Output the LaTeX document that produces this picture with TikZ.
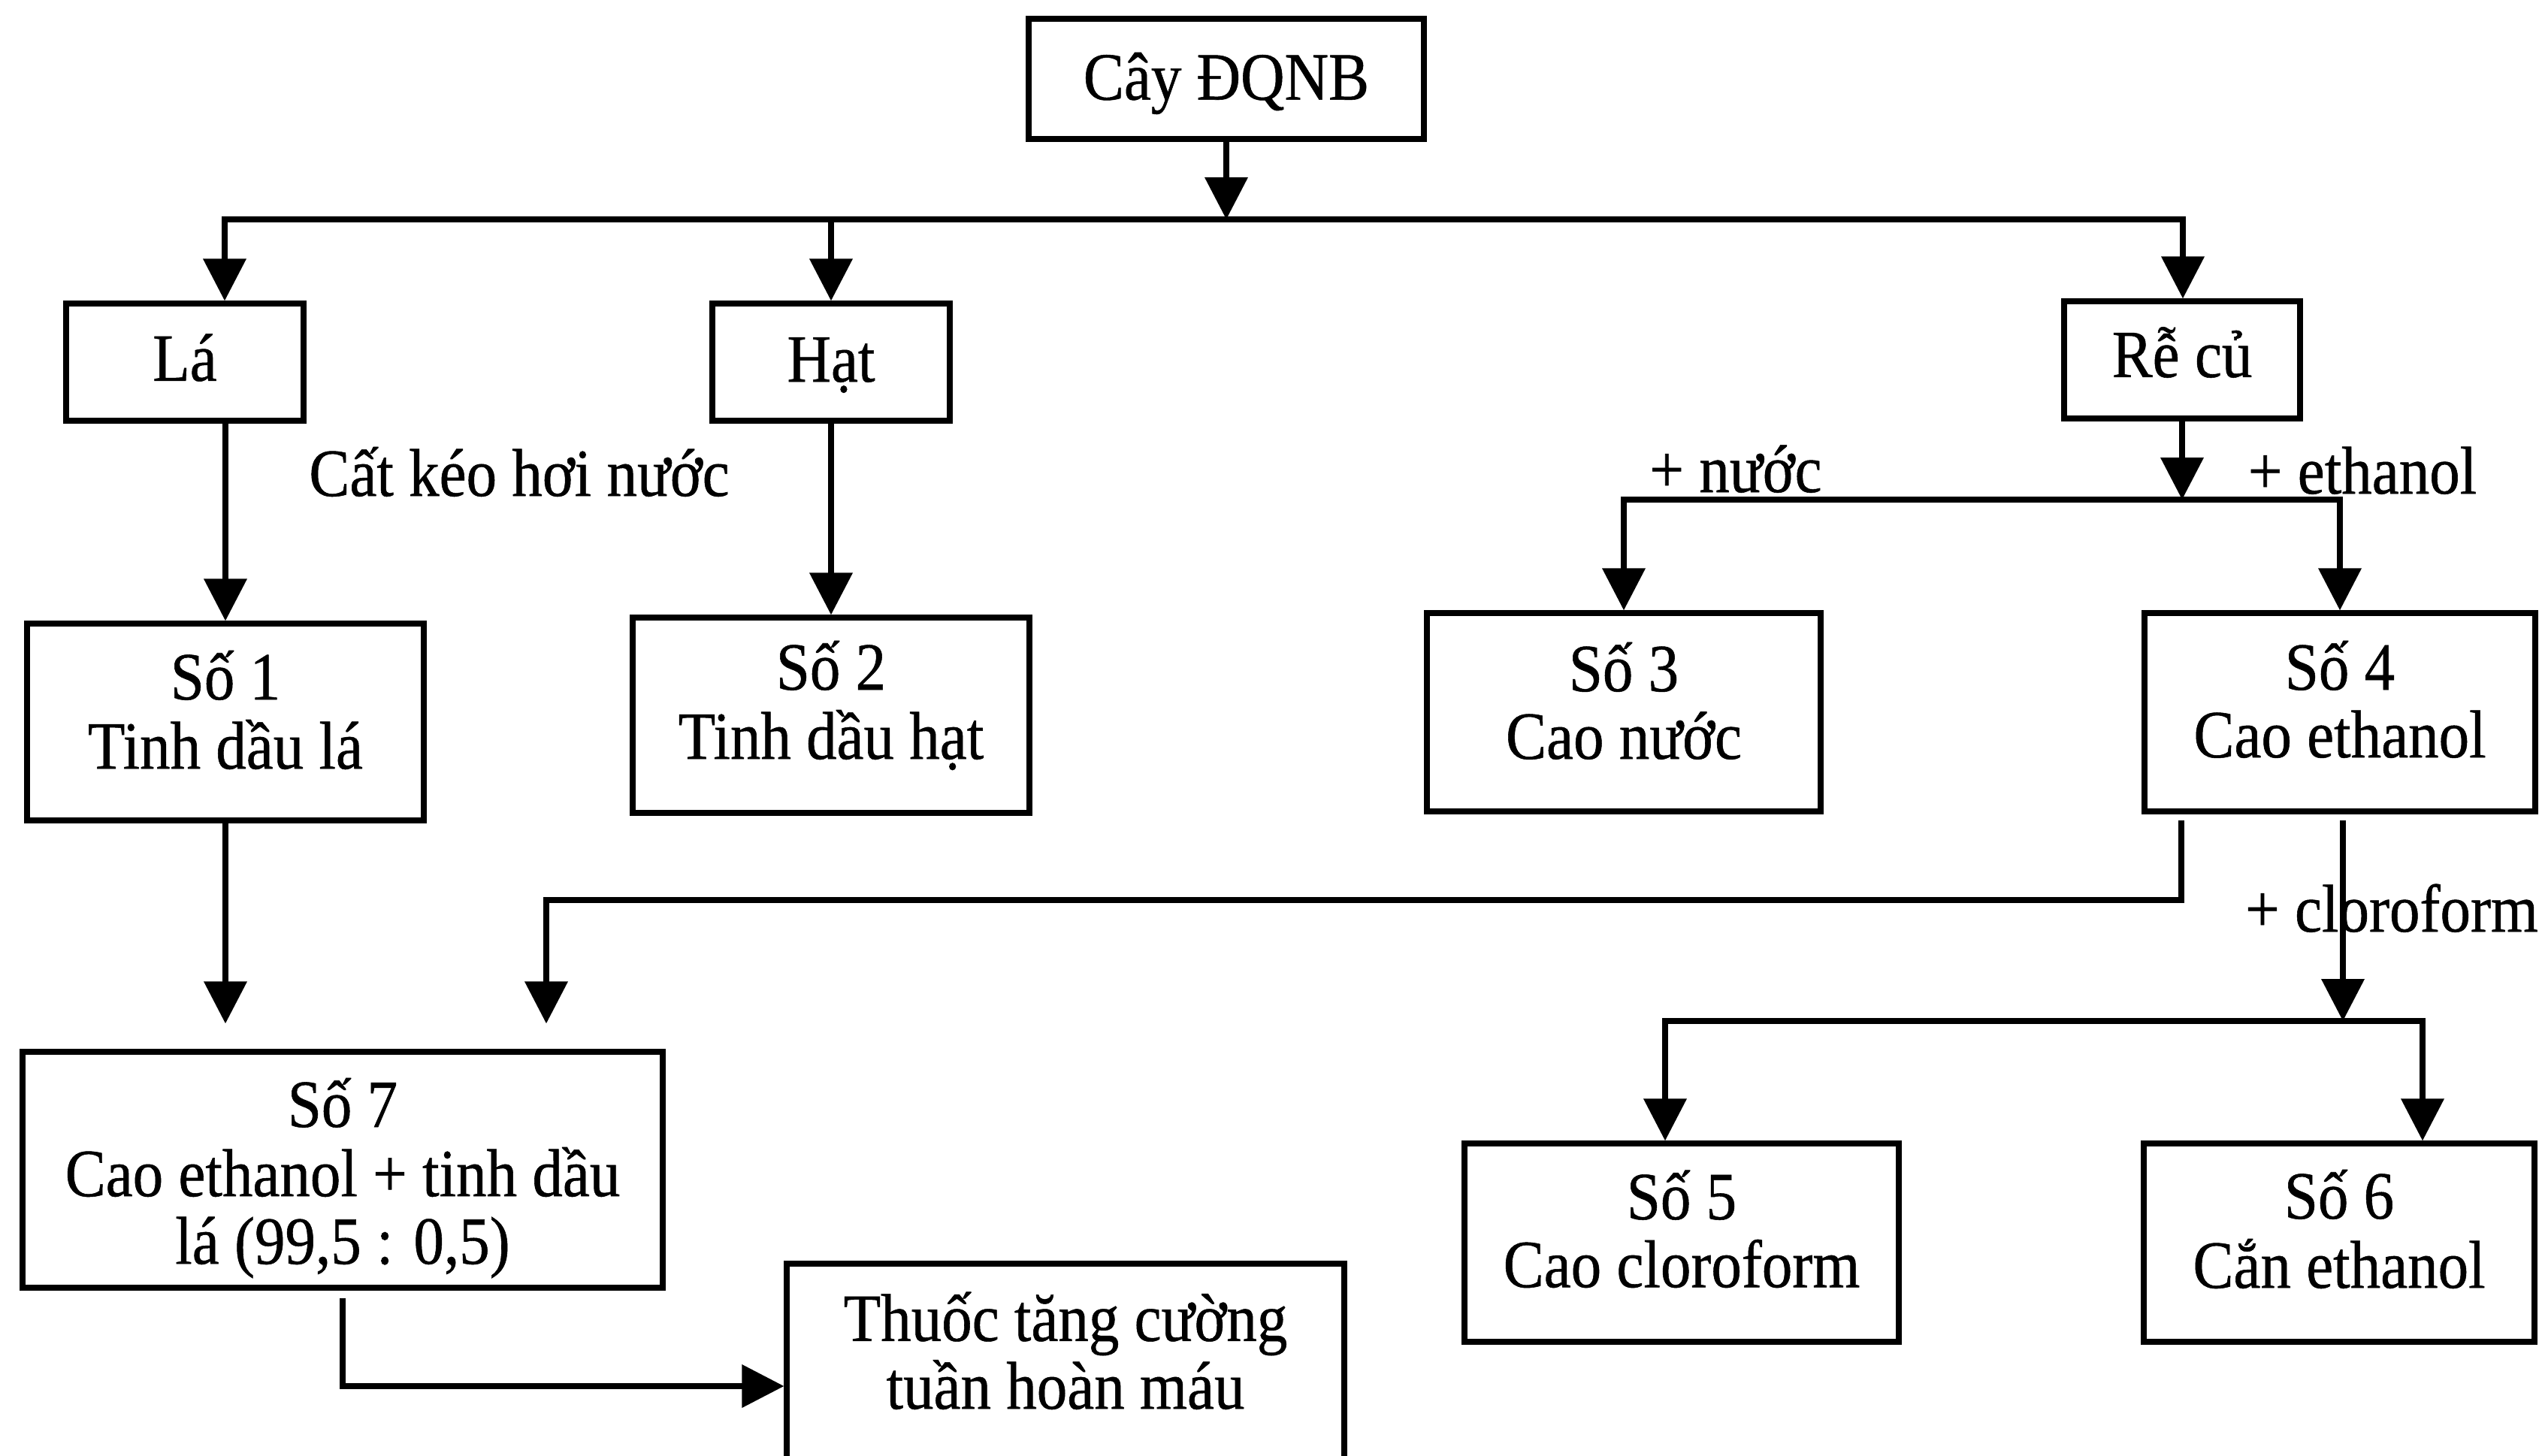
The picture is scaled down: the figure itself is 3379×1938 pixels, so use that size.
\documentclass[tikz,border=0pt]{standalone}
\usepackage{fontspec}
\setmainfont{Liberation Serif}[FakeStretch=0.9,FakeBold=0.6]
\usetikzlibrary{arrows.meta}
\newcommand\mtx[2]{\raisebox{#1}[\height][\depth]{\begin{tabular}{@{}c@{}}#2\end{tabular}}}
\newcommand\mone[2]{\raisebox{#1}[\height][\depth]{#2}}
\begin{document}
\begin{tikzpicture}[x=0.5pt,y=-0.5pt,
  box/.style={draw, line width=3.6pt, inner sep=0pt, align=center, font=\fontsize{45}{45}\selectfont},
  lbl/.style={inner sep=0pt, font=\fontsize{45}{45}\selectfont},
  conn/.style={line width=3.6pt},
  arr/.style={conn, -{Triangle[length=28pt,width=28pt]}}]
\useasboundingbox (0,0) rectangle (3379,1938);
\clip (0,0) rectangle (3379,1938);
\fill[white] (0,0) rectangle (3379,1938);

\node[box, minimum width=263pt, minimum height=80pt] (cay) at (1632,105) {\mone{-3pt}{Cây ĐQNB}};
\node[box, minimum width=158pt, minimum height=78pt] (la) at (246,482) {\mone{3pt}{Lá}};
\node[box, minimum width=158pt, minimum height=78pt] (hat) at (1106,482) {\mone{-2pt}{Hạt}};
\node[box, minimum width=157pt, minimum height=78pt] (re) at (2904,479) {\mone{5pt}{Rễ củ}};
\node[box, minimum width=264pt, minimum height=131pt] (so1) at (300,961) {\mtx{1.5pt}{Số 1\\Tinh dầu lá}};
\node[box, minimum width=264pt, minimum height=130pt] (so2) at (1106,952) {\mtx{3.5pt}{Số 2\\Tinh dầu hạt}};
\node[box, minimum width=262pt, minimum height=132pt] (so3) at (2161,948) {\mtx{1pt}{Số 3\\Cao nước}};
\node[box, minimum width=260pt, minimum height=132pt] (so4) at (3114,948) {\mtx{2pt}{Số 4\\Cao ethanol}};
\node[box, minimum width=289pt, minimum height=132pt] (so5) at (2238,1654) {\mtx{2.5pt}{Số 5\\Cao cloroform}};
\node[box, minimum width=260pt, minimum height=132pt] (so6) at (3113,1654) {\mtx{2.5pt}{Số 6\\Cắn ethanol}};
\node[box, minimum width=426pt, minimum height=157pt] (so7) at (456,1557) {\mtx{-7.5pt}{Số 7\\Cao ethanol + tinh dầu\\lá (99,5 : 0,5)}};
\node[box, minimum width=371pt, minimum height=139pt, font=\fontsize{45}{42}\selectfont] (thuoc) at (1418,1821) {\mtx{5.5pt}{Thuốc tăng cường\\tuần hoàn máu}};

% top bus
\coordinate (b1) at (1632,292);
\coordinate (bL) at (299,292);
\coordinate (bR) at (2905,292);
\draw[arr] (cay.south) -- (b1);
\draw[arr] (b1) -| (bL |- la.north);
\draw[arr] (b1) -| (bR |- re.north);
\draw[arr] (hat.north |- b1) -- (hat.north);

% leaves and seeds
\draw[arr] (so1.north |- la.south) -- (so1.north);
\node[lbl] (lcat) at (691,628) {Cất kéo hơi nước};
\draw[arr] (hat.south) -- (so2.north);

% roots
\coordinate (b2) at (2904,665);
\draw[arr] (re.south) -- (b2);
\draw[arr] (b2) -| (so3.north);
\draw[arr] (b2) -| (so4.north);
\node[lbl, anchor=base] (lnuoc) at (2310,655) {+ nước};
\node[lbl, anchor=base] (leth) at (3144,657) {+ ethanol};

% to So 7
\coordinate (s4a) at (2903,1092);
\coordinate (c7) at (727,1198);
\draw[arr, shorten >=17pt] (s4a) |- (c7) -- (c7 |- so7.north);
\draw[arr, shorten >=17pt] (so1.south) -- (so1.south |- so7.north);

% cloroform split
\coordinate (s4b) at (3118,1092);
\coordinate (b3) at (3118,1359);
\coordinate (b3L) at (2216,1359);
\coordinate (b3R) at (3224,1359);
\draw[arr] (s4b) -- (b3);
\draw[arr] (b3) -| (b3L |- so5.north);
\draw[arr] (b3) -| (b3R |- so6.north);
\node[lbl, anchor=base] (lclo) at (3183,1240) {+ cloroform};

% to product
\coordinate (t8) at (0,1845);
\draw[arr] ([yshift=-5pt]so7.south) |- (thuoc.west |- t8);
\end{tikzpicture}
\end{document}
